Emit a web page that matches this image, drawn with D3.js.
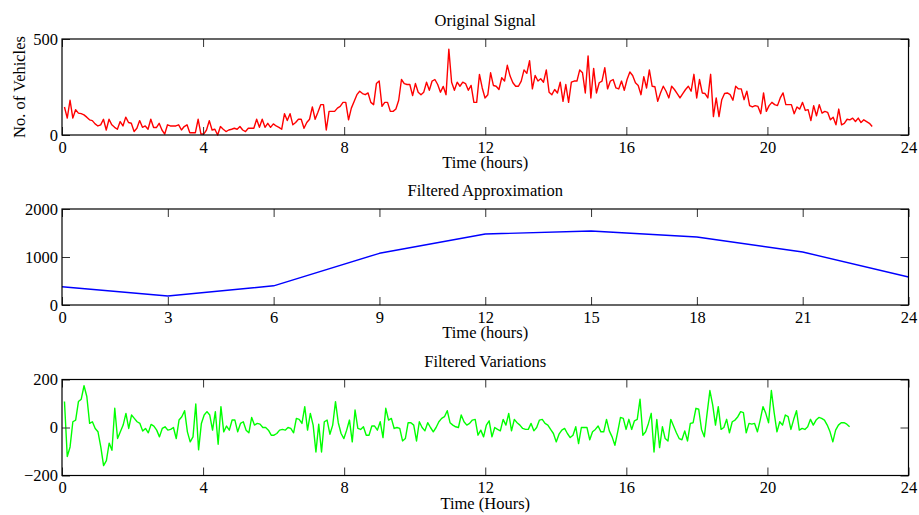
<!DOCTYPE html>
<html>
<head>
<meta charset="utf-8">
<script src="https://cdn.jsdelivr.net/npm/d3@7"></script>
<style>
  html, body { margin: 0; padding: 0; background: #fff; }
  svg { display: block; }
  text { font-family: "Liberation Serif", "Times New Roman", serif; fill: #000; }
</style>
</head>
<body>
<svg id="chart" width="919" height="515"></svg>
<script>
// ---------------- DATA ----------------
const signalValues = [
  146, 88, 181, 88, 132, 114, 111, 105, 93, 79,
  75, 58, 47, 53, 82, 26, 82, 53, 40, 30,
  70, 47, 93, 65, 61, 18, 35, 75, 40, 47,
  30, 82, 39, 39, 61, 26, 5, 53, 47, 47,
  47, 53, 26, 44, 53, 12, 12, 12, 82, 5,
  5, 26, 75, 26, 30, 0, 44, 30, 18, 26,
  30, 35, 30, 44, 26, 18, 35, 35, 35, 82,
  40, 82, 40, 61, 40, 58, 47, 40, 30, 111,
  75, 111, 53, 65, 82, 82, 35, 65, 82, 146,
  82, 118, 158, 158, 26, 123, 123, 123, 140, 149,
  170, 170, 79, 140,
  175, 210, 228, 216, 210, 219, 170, 158, 268, 281,
  149, 170, 170, 123, 123, 135, 181, 289, 268, 263,
  263, 205, 268, 223, 210, 223, 275, 233, 281, 289,
  263, 223, 253, 210, 447, 275, 233, 275, 254, 275,
  268, 233, 258, 170, 170, 316, 245, 193, 210, 324,
  258, 254, 237, 298, 281, 363, 307, 272, 254, 254,
  281, 339, 321, 387, 240, 310, 281, 293, 275, 339,
  223, 210, 237, 219, 275, 175, 263, 170, 275, 281,
  281, 339, 324, 219, 412, 193, 347, 219, 272, 281,
  351, 240, 281, 289, 245, 240, 281,
  233, 289, 328, 310, 272, 258, 210, 304, 245, 339,
  254, 251, 175, 219, 254, 228, 193, 254, 237, 216,
  193, 216, 237, 254, 228, 316, 193, 289, 219, 216,
  193, 316, 96, 193, 96, 184, 216, 219, 210, 181,
  254, 240, 240, 184, 228, 153, 146, 153, 149, 111,
  219, 123, 153, 170, 158, 153, 193, 219, 158, 158,
  158, 111, 146, 135, 170, 128, 132, 75, 153, 100,
  158, 114, 123, 118, 79, 93, 53, 135, 53, 61,
  82, 79, 88, 70, 88, 65, 79, 70, 61, 44
];
const signalStartHour = 0.07;
const signalEndHour = 22.97;

const approxHours = [0, 3, 6, 9, 12, 15, 18, 21, 24];
const approxValues = [381, 187, 400, 1077, 1479, 1542, 1417, 1104, 583];

const variationValues = [
  108, -121, -81, 24, 31, 108, 118, 174, 129, 17,
  24, -4, -18, -81, -159, -138, -65, -95, 80, -46,
  -18, 10, 59, -4, 52, 38, 24, 17, -15, -4,
  -22, 13, 6, -11, -39, -4, 3, -11, -8, 0,
  -46, 31, 45, 70, -18, -60, -39, 98, -93, 17,
  52, 66, 52, -11, 66, -70, 87, -18, 6, -11,
  31, 31, -18, 17, 24, -11, -22, 42, 10, 17,
  14, 0, 0, -11, -32, -32, -25, -11, -8, -11,
  0, -4, -22, 38, 34, 17, 87, -11, 59, 10,
  -102, 14, -102, 24, 31, -28, 10, 108, 20, -25,
  -46, -11, 31, -60,
  73, -4, -8, 3, -32, -32, 6, 6, -11, 24,
  -42, 80, 31, 38, -4, 0, -4, -56, -46, 20,
  20, 10, -56, 24, 0, -14, 20, 0, -18, 0,
  24, 38, 45, 70, 20, 10, 3, 0, 52, 24,
  10, 17, 31, 34, -32, -11, -39, 10, 28, -39,
  0, -8, -14, 34, 10, 59, -14, 34, 20, 10,
  -4, -8, -8, 17, -14, 0, 31, 34, 17, 10,
  -8, -25, -60, -28, -11, -4, -25, -42, -32, 3,
  -67, 0, 0, 0, -51, -18, -8, 6, -18, -18,
  34, -14, -39, -74, -18, 42, 38, -8, 34, -8,
  28, 34, 118,
  -32, -18, 17, 59, -102, 34, -84, 3, -46, -56,
  34, 6, -22, -46, -51, -14, -56, 17, 20, 80,
  76, -8, -39, 59, 154, 94, 10, 87, -8, 0,
  34, -22, 24, 31, 45, 66, 62, -22, 17, 14,
  17, -18, 31, 87, 59, 20, 154, 62, -18, 24,
  10, 52, 45, -8, 34, 70, -11, -4, -8, 3,
  34, 10, 31, 42, 38, 31, 10, -18, -60, -11,
  10, 20, 20, 14, 3
];
const variationStartHour = 0.07;
const variationEndHour = 22.33;

const xTicks4 = [0, 4, 8, 12, 16, 20, 24];
const xTicks3 = [0, 3, 6, 9, 12, 15, 18, 21, 24];
const signalYTicks = [0, 500];
const approxYTicks = [0, 1000, 2000];
const variationYTicks = [-200, 0, 200];

const titles = ["Original Signal", "Filtered Approximation", "Filtered Variations"];
const xLabels = ["Time (hours)", "Time (hours)", "Time (Hours)"];
const yLabelTop = "No. of Vehicles";

// ---------------- LAYOUT ----------------
const svg = d3.select("#chart");
const left = 62, right = 908.5, panelH = 96;
const tops = [39, 209, 379.5];
const FS = 16.5;
const TICK = 8;

function spread(values, start, end) {
  const n = values.length;
  return values.map((v, i) => ({ h: start + i * (end - start) / (n - 1), v }));
}

const panels = [
  { top: tops[0], yDomain: [0, 500], yTicks: signalYTicks, xTicks: xTicks4,
    data: spread(signalValues, signalStartHour, signalEndHour), color: "#ff0000",
    title: titles[0], xLabel: xLabels[0] },
  { top: tops[1], yDomain: [0, 2000], yTicks: approxYTicks, xTicks: xTicks3,
    data: approxHours.map((h, i) => ({ h, v: approxValues[i] })), color: "#0000ff",
    title: titles[1], xLabel: xLabels[1] },
  { top: tops[2], yDomain: [-200, 200], yTicks: variationYTicks, xTicks: xTicks4,
    data: spread(variationValues, variationStartHour, variationEndHour), color: "#00ff00",
    title: titles[2], xLabel: xLabels[2] }
];

panels.forEach(p => {
  const x = d3.scaleLinear().domain([0, 24]).range([left, right]);
  const y = d3.scaleLinear().domain(p.yDomain).range([p.top + panelH, p.top]);
  const g = svg.append("g");

  // line
  g.append("path")
    .datum(p.data)
    .attr("fill", "none")
    .attr("stroke", p.color)
    .attr("stroke-width", 1.4)
    .attr("stroke-linejoin", "round")
    .attr("d", d3.line().x(d => x(d.h)).y(d => y(d.v)));

  const styleAxis = sel => {
    sel.select(".domain").remove();
    sel.selectAll(".tick line").attr("stroke", "#333").attr("stroke-width", 1);
    sel.selectAll("text").style("font-size", FS + "px").style("font-family", "Liberation Serif, serif");
  };

  g.append("g").attr("transform", `translate(0,${p.top + panelH})`)
    .call(d3.axisBottom(x).tickValues(p.xTicks).tickSize(-TICK).tickPadding(6).tickFormat(d3.format("d")))
    .call(styleAxis);
  g.append("g").attr("transform", `translate(0,${p.top})`)
    .call(d3.axisTop(x).tickValues(p.xTicks).tickSize(-TICK).tickFormat(""))
    .call(styleAxis);
  g.append("g").attr("transform", `translate(${left},0)`)
    .call(d3.axisLeft(y).tickValues(p.yTicks).tickSize(-TICK).tickPadding(4).tickFormat(d3.format("d")))
    .call(styleAxis);
  g.append("g").attr("transform", `translate(${right},0)`)
    .call(d3.axisRight(y).tickValues(p.yTicks).tickSize(-TICK).tickFormat(""))
    .call(styleAxis);

  // box
  g.append("rect")
    .attr("x", left).attr("y", p.top)
    .attr("width", right - left).attr("height", panelH)
    .attr("fill", "none").attr("stroke", "#000").attr("stroke-width", 1.2);

  // title
  g.append("text")
    .attr("x", (left + right) / 2).attr("y", p.top - 13)
    .attr("text-anchor", "middle").style("font-size", FS + "px")
    .text(p.title);
  // x label
  g.append("text")
    .attr("x", (left + right) / 2).attr("y", p.top + panelH + 33)
    .attr("text-anchor", "middle").style("font-size", FS + "px")
    .text(p.xLabel);
});

// y label for top panel
svg.append("text")
  .attr("transform", `translate(25,${tops[0] + panelH / 2}) rotate(-90)`)
  .attr("text-anchor", "middle").style("font-size", FS + "px")
  .text(yLabelTop);
</script>
</body>
</html>
